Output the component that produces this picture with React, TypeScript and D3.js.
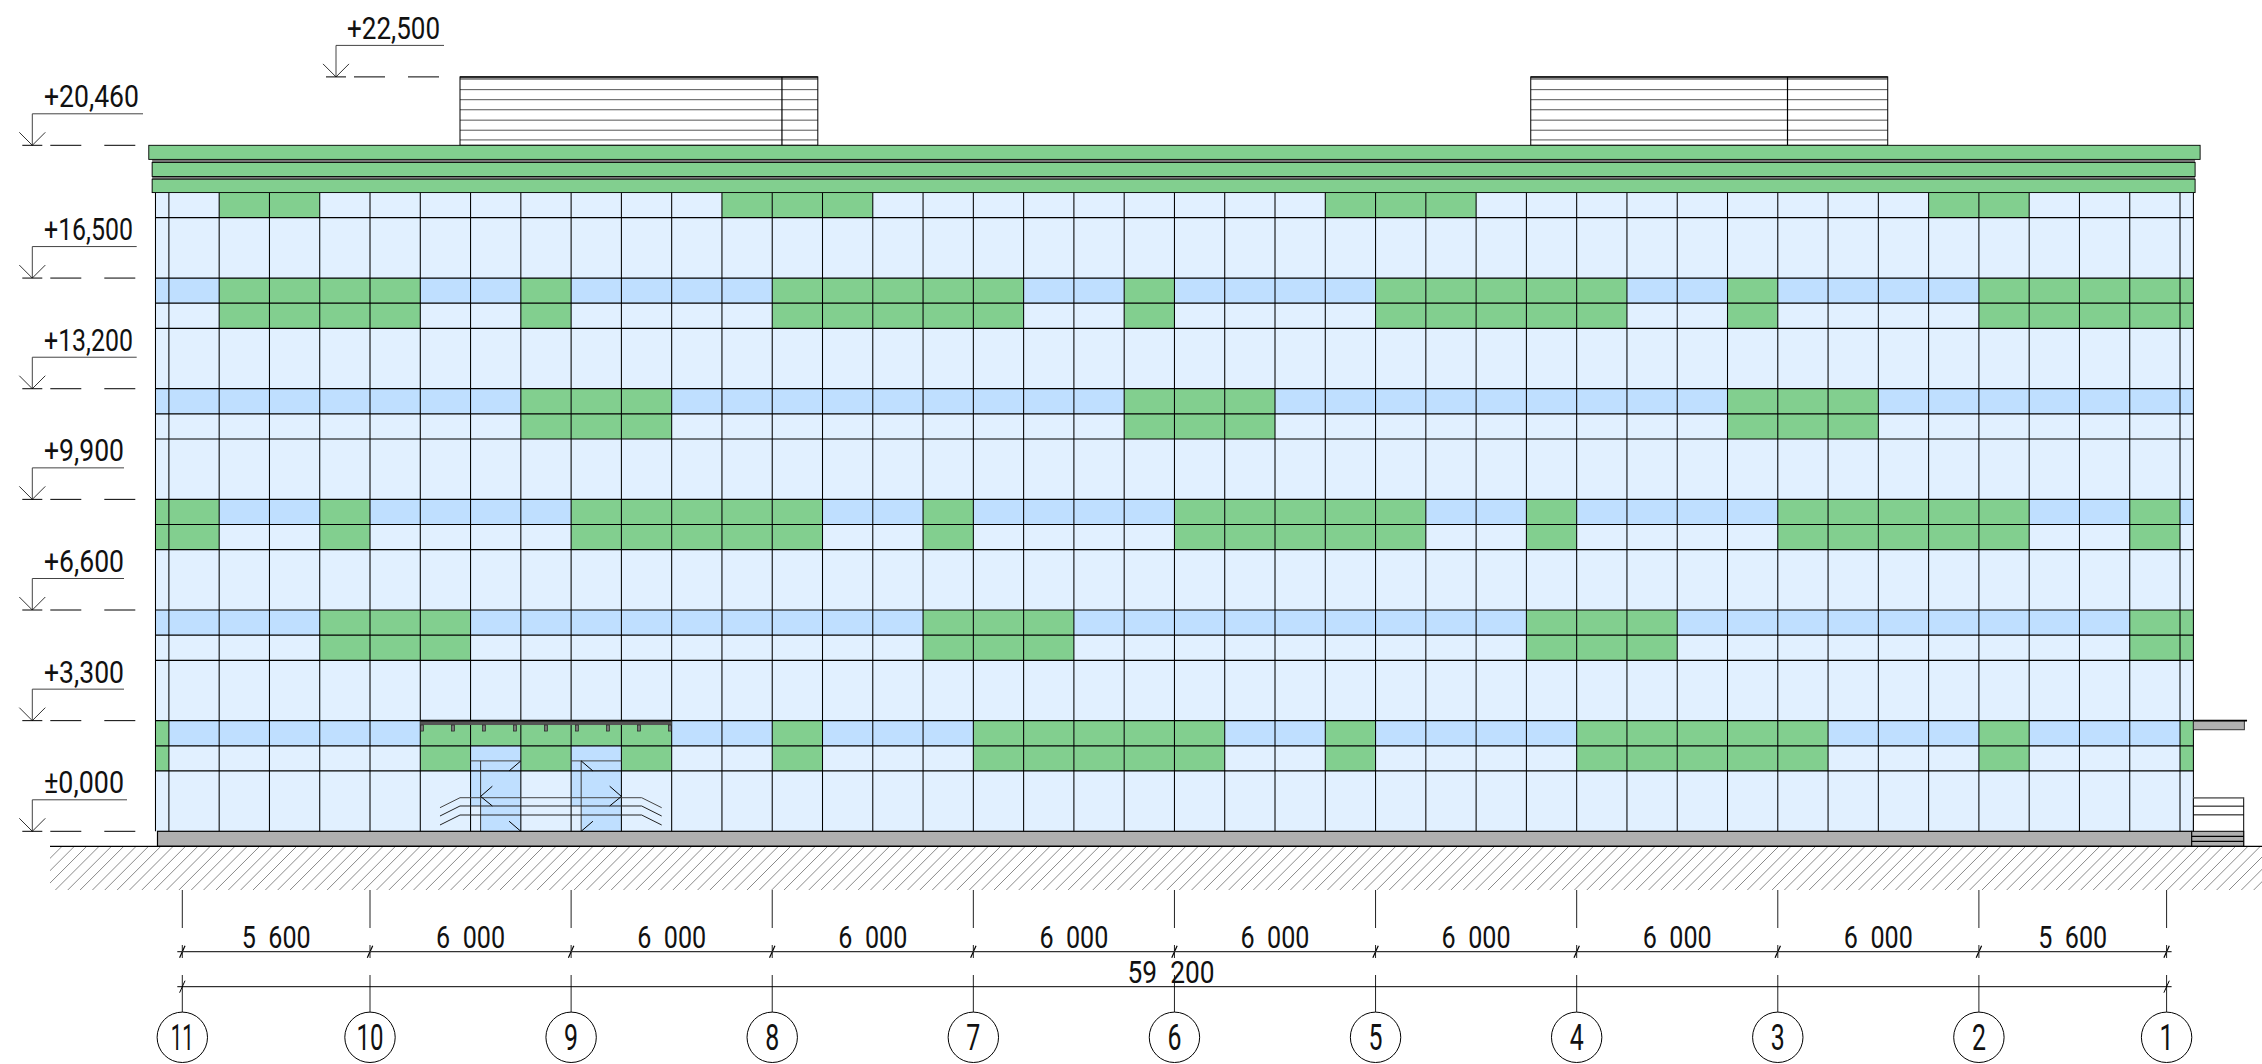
import React from "react";
import * as d3 from "d3";

const WIDTH = 2262;
const HEIGHT = 1064;
const AXIS_LABELS = ["11","10","9","8","7","6","5","4","3","2","1"];
const AXIS_SPANS = [5600,6000,6000,6000,6000,6000,6000,6000,6000,5600];
const SPAN_LABELS = ["5 600","6 000","6 000","6 000","6 000","6 000","6 000","6 000","6 000","5 600"];
const TOTAL_LABEL = "59 200";
const LEVELS = [22500,20460,16500,13200,9900,6600,3300,0];
const LEVEL_LABELS = ["+22,500","+20,460","+16,500","+13,200","+9,900","+6,600","+3,300","±0,000"];
const FLOOR_BANDS = [16500,13200,9900,6600,3300];
const GREEN_TOP = [1,2,11,12,13,23,24,25,35,36];
const GREEN_16500 = [1,2,3,4,7,12,13,14,15,16,19,24,25,26,27,28,31,36,37,38,39,40];
const GREEN_13200 = [7,8,9,19,20,21,31,32,33];
const GREEN_9900 = [-1,0,3,8,9,10,11,12,15,20,21,22,23,24,27,32,33,34,35,36,39];
const GREEN_6600 = [3,4,5,15,16,17,27,28,29,39,40];
const GREEN_3300_UP = [-1,5,6,7,8,9,12,16,17,18,19,20,23,28,29,30,31,32,36,40];
const GREEN_3300_LOW = [-1,5,7,9,12,16,17,18,19,20,23,28,29,30,31,32,36,40];
const STRUCT_LINES = [22500,22120,21820,21520,21210,20910,20620];

const x = d3.scaleLinear().domain([0,59200]).range([182.3,2166.6]);
const y = d3.scaleLinear().domain([0,20460]).range([831.3,145.3]);
const BLACK = "#000", LIGHT = "#e1f0ff", BLUE = "#bfdfff", GREEN = "#82cf8f", GRAY = "#b0b0b0";

const colL = (i:number) => i < 0 ? -800 : -400 + 1500*i;
const colR = (i:number) => i >= 40 ? 60000 : -400 + 1500*(i+1);
const cols = d3.range(-1,41);
const axisMm:number[] = Array.from(d3.cumsum([0,...AXIS_SPANS]));

function Cell({i,top,bot,fill}:{i:number,top:number,bot:number,fill:string}){
  return <rect x={x(colL(i))} y={y(top)} width={x(colR(i))-x(colL(i))} height={y(bot)-y(top)} fill={fill}/>;
}
function L({x1,y1,x2,y2,s=BLACK,w=1}:{x1:number,y1:number,x2:number,y2:number,s?:string,w?:number}){
  return <line x1={x1} y1={y1} x2={x2} y2={y2} stroke={s} strokeWidth={w}/>;
}
function T({x0,base,len,size,children,mid}:{x0:number,base:number,len:number,size:number,children:any,mid?:boolean}){
  return <text x={x0} y={base} fontSize={size} fontFamily="'Liberation Sans Narrow', Roboto, sans-serif"
    fill="#111" textLength={len} lengthAdjust="spacingAndGlyphs" textAnchor={mid?"middle":"start"}>{children}</text>;
}
const levelText = [
  {tx:347,len:93,end:444,mx:336},{tx:44,len:95,end:143,mx:32.3},{tx:44,len:89,end:136.7,mx:32.3},{tx:44,len:89,end:136.7,mx:32.3},
  {tx:44,len:80,end:124,mx:32.3},{tx:44,len:80,end:124,mx:32.3},{tx:44,len:80,end:124,mx:32.3},{tx:44,len:80,end:127,mx:32.3},
];
function Struct({a,b,c}:{a:number,b:number,c:number}){
  return <g>
    <rect x={x(a)} y={y(22500)} width={x(c)-x(a)} height={y(20460)-y(22500)} fill="#fff"/>
    <rect x={x(a)} y={y(22500)} width={x(c)-x(a)} height={3} fill="#888"/>
    {STRUCT_LINES.map((e,i)=><L key={e} x1={x(a)} x2={x(c)} y1={y(e)} y2={y(e)} s={i===0?BLACK:"#555"} w={1}/>)}
    <rect x={x(a)} y={y(22500)} width={x(c)-x(a)} height={y(20460)-y(22500)} fill="none" stroke={BLACK}/>
    <L x1={x(b)} x2={x(b)} y1={y(22500)} y2={y(20460)} w={1.2}/>
  </g>;
}

export default function App(){
  const wt=y(19050), wb=y(0), wl=x(-800), wr=x(60000);
  const rows:number[]=[18300]; FLOOR_BANDS.forEach(e=>rows.push(e,e-750,e-1500));
  const hatchX=d3.range(50,2320,12.35);
  return <svg width={WIDTH} height={HEIGHT} viewBox={`0 0 ${WIDTH} ${HEIGHT}`} style={{position:"absolute",left:0,top:0,display:"block",background:"#fff"}}>
    <defs><clipPath id="g"><rect x={50} y={846} width={2212} height={45}/></clipPath></defs>
    <Struct a={8285} b={17890} c={18960}/>
    <Struct a={40230} b={47890} c={50880}/>
    <rect x={wl} y={wt} width={wr-wl} height={wb-wt} fill={LIGHT}/>
    {FLOOR_BANDS.map(e=>cols.map(i=><Cell key={e+"b"+i} i={i} top={e} bot={e-750} fill={BLUE}/>))}
    {GREEN_TOP.map(i=><Cell key={"t"+i} i={i} top={19050} bot={18300} fill={GREEN}/>)}
    {[GREEN_16500,GREEN_13200,GREEN_9900,GREEN_6600].map((g,k)=>g.map(i=><Cell key={k+"g"+i} i={i} top={FLOOR_BANDS[k]} bot={FLOOR_BANDS[k]-1500} fill={GREEN}/>))}
    {GREEN_3300_UP.map(i=><Cell key={"u"+i} i={i} top={3300} bot={2550} fill={GREEN}/>)}
    {GREEN_3300_LOW.map(i=><Cell key={"l"+i} i={i} top={2550} bot={1800} fill={GREEN}/>)}
    {[[8600,8900,10100],[11600,11900,13100]].map(([a,b,c])=><g key={a}>
      <rect x={x(a)} y={y(2550)} width={x(c)-x(a)} height={y(2100)-y(2550)} fill={BLUE}/>
      <rect x={x(a)} y={y(2100)} width={x(b)-x(a)} height={y(755)-y(2100)} fill={BLUE}/>
      <rect x={x(b)} y={y(2100)} width={x(c)-x(b)} height={y(0)-y(2100)} fill={BLUE}/>
    </g>)}
    {[...cols.map(colL),60000].map((m,i)=><L key={"v"+i} x1={x(m)} x2={x(m)} y1={wt} y2={wb} w={1.05}/>)}
    {rows.map(e=><L key={"h"+e} x1={wl} x2={wr} y1={y(e)} y2={y(e)} w={1.2}/>)}
    {[[8600,8900,10100],[11600,11900,13100]].map(([a,b,c])=><g key={a}>
      <L x1={x(a)} x2={x(c)} y1={y(2100)} y2={y(2100)} s="#444"/>
      <L x1={x(b)} x2={x(b)} y1={y(2100)} y2={y(0)} s="#333"/>
    </g>)}
    {[[7688,704,8285,1002,13705,14302],[7688,456,8285,755,13705,14302],[7688,188,8285,486,13705,14302]].map((r,k)=>
      <polyline key={k} fill="none" stroke={k===0?"#444":"#222"} strokeWidth={1}
        points={[[r[0],r[1]],[r[2],r[3]],[r[4],r[3]],[r[5],r[1]]].map(p=>`${x(p[0])},${y(p[1])}`).join(" ")}/>
    )}
    {[[9250,1345,8900,1040,9250,755],[12750,1345,13100,1040,12750,755],[9750,1800,10100,2100,null],[9750,300,10100,0,null],[11900,2100,12250,1800,null],[11900,0,12250,300,null]].map((p,k)=>
      <polyline key={"c"+k} fill="none" stroke={BLACK} strokeWidth={1}
        points={(p[4]===null?[[p[0],p[1]],[p[2],p[3]]]:[[p[0],p[1]],[p[2],p[3]],[p[4],p[5]]]).map(q=>`${x(q[0] as number)},${y(q[1] as number)}`).join(" ")}/>
    )}
    <rect x={x(7100)} y={y(3300)} width={x(14600)-x(7100)} height={y(3170)-y(3300)} fill="#555"/>
    <L x1={x(7100)} x2={x(14600)} y1={y(3300)} y2={y(3300)} w={1.6}/>
    {d3.range(9).map(k=><rect key={k} x={x(7150+925*k)-1.5} y={y(3170)} width={3} height={y(2990)-y(3170)} fill="#777" stroke="#222" strokeWidth={0.7}/>)}
    <rect x={x(-900)} y={159.5} width={x(60050)-x(-900)} height={33} fill="#777"/>
    <rect x={x(-1000)} y={y(20460)} width={x(60200)-x(-1000)} height={y(20040)-y(20460)} fill={GREEN} stroke={BLACK} strokeWidth={0.9}/>
    <rect x={x(-900)} y={y(19950)} width={x(60050)-x(-900)} height={y(19530)-y(19950)} fill={GREEN} stroke={BLACK} strokeWidth={0.9}/>
    <rect x={x(-900)} y={y(19450)} width={x(60050)-x(-900)} height={y(19050)-y(19450)} fill={GREEN} stroke={BLACK} strokeWidth={0.9}/>
    <rect x={x(-740)} y={wb} width={x(59950)-x(-740)} height={15} fill={GRAY} stroke={BLACK} strokeWidth={1.2}/>
    <rect x={wr} y={y(3300)} width={x(61520)-wr} height={y(3030)-y(3300)} fill={GRAY} stroke="#333"/>
    <L x1={wr} x2={x(61600)} y1={y(3300)} y2={y(3300)} w={1.6}/>
    <rect x={wr} y={y(1000)} width={x(61500)-wr} height={846.3-y(1000)} fill="#fff" stroke={BLACK}/>
    <L x1={wr} x2={x(61500)} y1={y(1000)} y2={y(1000)} s="#777" w={1.4}/>
    <L x1={wr} x2={x(61500)} y1={y(750)} y2={y(750)}/>
    <L x1={wr} x2={x(61500)} y1={y(490)} y2={y(490)}/>
    <rect x={x(59950)} y={wb} width={x(61500)-x(59950)} height={15} fill={GRAY} stroke={BLACK}/>
    <L x1={x(59950)} x2={x(61500)} y1={y(-150)} y2={y(-150)} w={1.2}/>
    <L x1={x(59950)} x2={x(61500)} y1={y(-300)} y2={y(-300)} w={1.2}/>
    <g clipPath="url(#g)">{hatchX.map(h=><L key={h} x1={h-44} y1={890} x2={h} y2={846} s="#8a8a8a" w={1}/>)}</g>
    <L x1={50} x2={WIDTH} y1={846.3} y2={846.3} w={1.2}/>
    {LEVELS.map((e,k)=>{ const m=levelText[k]; const b=y(e); return <g key={e}>
      <L x1={m.mx} x2={m.mx} y1={b-31.5} y2={b} s="#444"/>
      <L x1={m.mx} x2={m.end} y1={b-31.5} y2={b-31.5} s="#444"/>
      <polyline points={`${m.mx-13},${b-13} ${m.mx},${b} ${m.mx+13},${b-13}`} fill="none" stroke="#333"/>
      <L x1={m.mx-10} x2={m.mx+10} y1={b} y2={b}/>
      <L x1={m.mx+18} x2={m.mx+49} y1={b} y2={b}/>
      <L x1={m.mx+72} x2={m.mx+103} y1={b} y2={b}/>
      <T x0={m.tx} base={b-38} len={m.len} size={30.5}>{LEVEL_LABELS[k]}</T>
    </g>;})}
    {axisMm.map((m,k)=>{ const p=x(m); return <g key={m}>
      <L x1={p} x2={p} y1={890} y2={928} s="#222"/>
      <L x1={p} x2={p} y1={975} y2={1012} s="#222"/>
      <L x1={p} x2={p} y1={945} y2={958} s="#222"/>
      <L x1={p-2.7} x2={p+2.7} y1={957.7} y2={945.7} w={1.2}/>
      <circle cx={p} cy={1037.3} r={25.2} fill="#fff" stroke={BLACK}/>
      <T x0={p} mid base={1049.5} len={AXIS_LABELS[k].length>1?(AXIS_LABELS[k]==="11"?23:27):14} size={36}>{AXIS_LABELS[k]}</T>
    </g>;})}
    <L x1={x(0)-5} x2={x(59200)+5} y1={951.7} y2={951.7} s="#333" w={1.2}/>
    <L x1={x(0)-5} x2={x(59200)+5} y1={986.7} y2={986.7}/>
    {[0,59200].map(m=><L key={m} x1={x(m)-2.7} x2={x(m)+2.7} y1={992.7} y2={980.7}/>)}
    {AXIS_SPANS.map((s,k)=><T key={k} mid x0={(x(axisMm[k])+x(axisMm[k+1]))/2} base={947.7} len={69} size={30.5}>{SPAN_LABELS[k].replace(" ","\u00a0\u00a0")}</T>)}
    <T mid x0={1171} base={982.5} len={87} size={30.5}>{TOTAL_LABEL.replace(" ","\u00a0\u00a0")}</T>
  </svg>;
}
